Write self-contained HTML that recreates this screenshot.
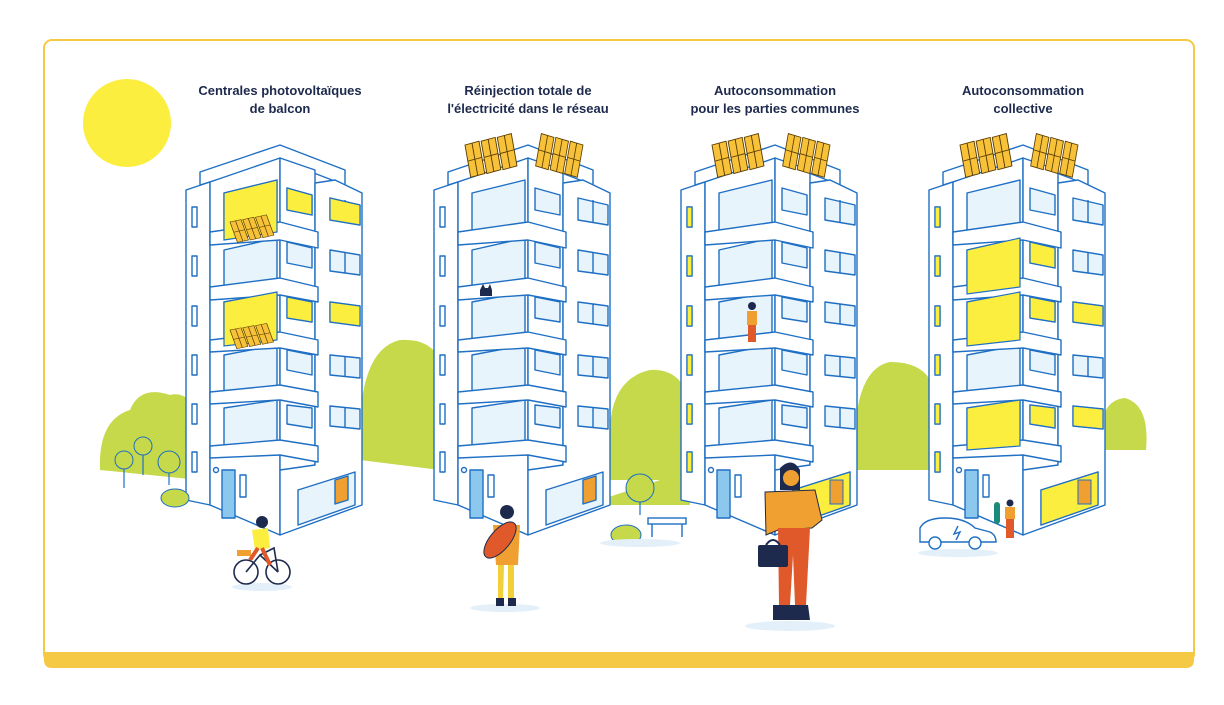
<!DOCTYPE html>
<html><head><meta charset="utf-8"><style>
html,body{margin:0;padding:0;background:#fff;width:1224px;height:705px;overflow:hidden}
svg{display:block}
text{font-family:"Liberation Sans",sans-serif;font-weight:bold;font-size:13px;fill:#1d2a4d}
</style></head><body>
<svg width="1224" height="705" viewBox="0 0 1224 705" xmlns="http://www.w3.org/2000/svg">
<defs>
<g id="bld" stroke="#1f6fc4" stroke-width="1.4" fill="#fff" stroke-linejoin="round">
  <polygon points="200,172 280,145 345,170 345,185 280,160 200,185"/>
  <polygon points="186,190 210,182 210,505 186,500"/>
  <polygon points="210,182 280,158 280,535 210,505"/>
  <polygon points="280,158 315,170 315,470 280,470"/>
  <polygon points="315,183 335,180 362,193 362,505 280,535 280,470 315,465"/>
  <g fill="#e8f4fc">
    <polygon points="224,193 277,180 277,232 224,240"/>
    <polygon points="224,250 277,238 277,287 224,294"/>
    <polygon points="224,302 277,292 277,340 224,346"/>
    <polygon points="224,355 277,345 277,392 224,397"/>
    <polygon points="224,408 277,400 277,446 224,450"/>
    <polygon points="287,188 312,195 312,215 287,210"/>
    <polygon points="287,242 312,248 312,268 287,263"/>
    <polygon points="287,297 312,302 312,322 287,318"/>
    <polygon points="287,350 312,355 312,375 287,370"/>
    <polygon points="287,405 312,408 312,428 287,424"/>
    <polygon points="330,198 360,205 360,225 330,220"/>
    <polygon points="330,250 360,255 360,275 330,271"/>
    <polygon points="330,302 360,306 360,326 330,322"/>
    <polygon points="330,355 360,358 360,378 330,375"/>
    <polygon points="330,406 360,409 360,429 330,426"/>
  </g>
  <g fill="none">
    <line x1="345" y1="200" x2="345" y2="222"/><line x1="345" y1="252" x2="345" y2="273"/>
    <line x1="345" y1="304" x2="345" y2="324"/><line x1="345" y1="356" x2="345" y2="377"/>
    <line x1="345" y1="407" x2="345" y2="428"/>
  </g>
  <g fill="#fff">
    <polygon points="210,232 280,222 318,232 318,248 280,240 210,245"/>
    <polygon points="210,287 280,278 318,287 318,302 280,295 210,300"/>
    <polygon points="210,340 280,332 318,340 318,355 280,348 210,352"/>
    <polygon points="210,392 280,385 318,392 318,407 280,400 210,404"/>
    <polygon points="210,446 280,440 318,446 318,462 280,455 210,458"/>
  </g>
  <g fill="#fff">
    <rect x="192" y="207" width="5" height="20"/><rect x="192" y="256" width="5" height="20"/>
    <rect x="192" y="306" width="5" height="20"/><rect x="192" y="355" width="5" height="20"/>
    <rect x="192" y="404" width="5" height="20"/><rect x="192" y="452" width="5" height="20"/>
  </g>
  <rect x="222" y="470" width="13" height="48" fill="#8cc8ee"/>
  <rect x="240" y="475" width="6" height="22" fill="#fff"/>
  <circle cx="216" cy="470" r="2.5" fill="#fff"/>
  <polygon points="298,490 355,472 355,505 298,525" fill="#e8f4fc"/>
  <polygon points="335,480 348,476 348,500 335,504" fill="#f0a030"/>
</g>
<g id="p1" stroke="#5a3d00" stroke-width="0.9" fill="#f7c23a">
  <polygon points="0,0 14,-4 14,30 0,34"/>
  <line x1="7" y1="-2" x2="7" y2="32"/><line x1="0" y1="17" x2="14" y2="13"/>
</g>
<g id="panel">
  <use href="#p1"/><use href="#p1" transform="translate(16,-4)"/><use href="#p1" transform="translate(32,-8)"/>
</g>
</defs>

<rect x="44" y="40" width="1150" height="622" rx="8" fill="none" stroke="#f6c944" stroke-width="2"/>
<path d="M44,652 L1194,652 L1194,660 Q1194,668 1186,668 L52,668 Q44,668 44,660 Z" fill="#f6c944"/>

<circle cx="127" cy="123" r="44" fill="#fcee3f"/>

<g fill="#c6d94a">
  <path d="M100,470 Q98,420 130,410 Q140,385 170,395 Q190,390 200,420 L200,480 Z"/>
  <path d="M360,460 Q355,350 400,340 Q430,338 440,360 L440,470 Z"/>
  <path d="M600,480 L610,450 Q605,380 650,370 Q680,368 690,400 L690,480 Z"/>
  <path d="M855,470 Q850,370 890,362 Q920,362 930,380 L930,470 Z"/>
  <path d="M1100,440 Q1100,400 1125,398 Q1150,405 1146,450 L1100,450 Z"/>
  <polygon points="600,500 690,470 690,505 600,505"/>
</g>

<use href="#bld"/>
<use href="#bld" transform="translate(248,0)"/>
<use href="#bld" transform="translate(495,0)"/>
<use href="#bld" transform="translate(743,0)"/>

<g fill="#fcee3f" stroke="#1f6fc4" stroke-width="1.2">
  <polygon points="224,193 277,180 277,232 224,240"/>
  <polygon points="224,302 277,292 277,340 224,346"/>
  <polygon points="287,188 312,195 312,215 287,210"/>
  <polygon points="287,297 312,302 312,322 287,318"/>
  <polygon points="330,198 360,205 360,225 330,220"/>
  <polygon points="330,302 360,306 360,326 330,322"/>
</g>
<use href="#panel" transform="translate(230,222) skewX(20) scale(0.85,0.6)"/>
<use href="#panel" transform="translate(230,330) skewX(20) scale(0.85,0.55)"/>
<g>
  <use href="#panel" transform="translate(465,145) skewX(10) scale(1.05,0.95)"/>
  <use href="#panel" transform="translate(583,145) scale(-0.95,0.95) skewX(10)"/>
  <use href="#panel" transform="translate(712,145) skewX(10) scale(1.05,0.95)"/>
  <use href="#panel" transform="translate(830,145) scale(-0.95,0.95) skewX(10)"/>
  <use href="#panel" transform="translate(960,145) skewX(10) scale(1.05,0.95)"/>
  <use href="#panel" transform="translate(1078,145) scale(-0.95,0.95) skewX(10)"/>
</g>
<g fill="#fcee3f" stroke="#1f6fc4" stroke-width="1.2">
  <rect x="687" y="207" width="5" height="20"/><rect x="687" y="256" width="5" height="20"/>
  <rect x="687" y="306" width="5" height="20"/><rect x="687" y="355" width="5" height="20"/>
  <rect x="687" y="404" width="5" height="20"/><rect x="687" y="452" width="5" height="20"/>
  <rect x="935" y="207" width="5" height="20"/><rect x="935" y="256" width="5" height="20"/>
  <rect x="935" y="306" width="5" height="20"/><rect x="935" y="355" width="5" height="20"/>
  <rect x="935" y="404" width="5" height="20"/><rect x="935" y="452" width="5" height="20"/>
  <polygon points="793,490 850,472 850,505 793,525"/>
  <polygon points="967,250 1020,238 1020,287 967,294"/>
  <polygon points="967,302 1020,292 1020,340 967,346"/>
  <polygon points="967,408 1020,400 1020,446 967,450"/>
  <polygon points="1030,242 1055,248 1055,268 1030,263"/>
  <polygon points="1030,297 1055,302 1055,322 1030,318"/>
  <polygon points="1030,405 1055,408 1055,428 1030,424"/>
  <polygon points="1073,302 1103,306 1103,326 1073,322"/>
  <polygon points="1073,406 1103,409 1103,429 1073,426"/>
  <polygon points="1041,490 1098,472 1098,505 1041,525"/>
</g>
<rect x="1078" y="480" width="13" height="24" fill="#f0a030" stroke="#1f6fc4"/>
<rect x="830" y="480" width="13" height="24" fill="#f0a030" stroke="#1f6fc4"/>

<g stroke="#1f6fc4" stroke-width="1.2">
  <line x1="124" y1="465" x2="124" y2="488"/><line x1="143" y1="450" x2="143" y2="475"/><line x1="169" y1="465" x2="169" y2="485"/>
  <line x1="640" y1="490" x2="640" y2="515"/>
</g>
<g fill="#c6d94a" stroke="#1f6fc4" stroke-width="1">
  <circle cx="124" cy="460" r="9"/><circle cx="143" cy="446" r="9"/><circle cx="169" cy="462" r="11"/>
  <ellipse cx="175" cy="498" rx="14" ry="9"/>
  <circle cx="640" cy="488" r="14"/>
  <ellipse cx="626" cy="535" rx="15" ry="10"/>
</g>
<g stroke="#1f6fc4" stroke-width="1.4" fill="none">
  <rect x="648" y="518" width="38" height="6" fill="#fff"/>
  <line x1="652" y1="524" x2="652" y2="537"/><line x1="682" y1="524" x2="682" y2="537"/>
</g>
<g fill="#e3f0fa">
  <ellipse cx="640" cy="543" rx="40" ry="4"/><ellipse cx="262" cy="587" rx="30" ry="4"/>
  <ellipse cx="505" cy="608" rx="35" ry="4"/><ellipse cx="790" cy="626" rx="45" ry="5"/>
  <ellipse cx="958" cy="553" rx="40" ry="4"/>
</g>

<g stroke="#1d2a4d" stroke-width="1.6" fill="none">
  <circle cx="246" cy="572" r="12"/><circle cx="278" cy="572" r="12"/>
  <path d="M246,572 L260,555 L278,572 M260,555 L274,548 L278,572"/>
</g>
<rect x="237" y="550" width="14" height="6" fill="#f0a030"/>
<path d="M252,530 L268,528 L270,548 L255,550 Z" fill="#fcee3f"/>
<circle cx="262" cy="522" r="6" fill="#1d2a4d"/>
<path d="M262,548 L270,565 M258,548 L250,560" stroke="#e0592a" stroke-width="4"/>

<g>
  <circle cx="507" cy="512" r="7" fill="#1d2a4d"/>
  <path d="M493,525 L520,525 L518,565 L496,565 Z" fill="#f0a030"/>
  <path d="M498,565 L504,565 L503,600 L498,600 Z M508,565 L514,565 L514,600 L508,600 Z" fill="#f2d03a"/>
  <rect x="496" y="598" width="8" height="8" fill="#1d2a4d"/><rect x="508" y="598" width="8" height="8" fill="#1d2a4d"/>
  <ellipse cx="500" cy="540" rx="10" ry="22" transform="rotate(40 500 540)" fill="#e0592a" stroke="#1d2a4d"/>
</g>
<g>
  <circle cx="752" cy="306" r="4" fill="#1d2a4d"/>
  <rect x="747" y="311" width="10" height="14" fill="#f0a030"/>
  <rect x="748" y="325" width="8" height="17" fill="#e0592a"/>
</g>
<g>
  <path d="M780,468 Q792,456 800,470 L800,490 L780,490 Z" fill="#1d2a4d"/>
  <circle cx="791" cy="478" r="8" fill="#f0a030"/>
  <path d="M765,492 L815,490 L822,520 L812,528 L812,528 L778,530 L766,535 Z" fill="#f0a030" stroke="#1d2a4d"/>
  <path d="M778,528 L810,528 L806,605 L795,605 L793,555 L790,605 L779,605 Z" fill="#e0592a"/>
  <path d="M773,605 L795,605 L795,620 L773,620 Z M787,605 L808,605 L810,620 L790,620 Z" fill="#1d2a4d"/>
  <rect x="758" y="545" width="30" height="22" rx="2" fill="#1d2a4d"/>
  <path d="M766,545 Q773,535 780,545" stroke="#1d2a4d" fill="none" stroke-width="2"/>
</g>
<g stroke="#1f6fc4" stroke-width="1.4" fill="#fff">
  <path d="M920,542 L920,528 Q925,518 945,518 Q965,518 975,528 L990,532 Q996,535 996,542 Z"/>
  <circle cx="935" cy="543" r="6"/><circle cx="975" cy="543" r="6"/>
  <path d="M958,526 L954,534 L960,532 L956,540" fill="none"/>
</g>
<rect x="994" y="502" width="6" height="22" rx="3" fill="#1b8a7a"/>
<g><circle cx="1010" cy="503" r="3.5" fill="#1d2a4d"/><rect x="1005" y="507" width="10" height="12" fill="#f0a030"/><rect x="1006" y="519" width="8" height="19" fill="#e0592a"/></g>
<path d="M480,290 l3,-6 l2,4 l3,0 l2,-4 l2,6 l0,6 l-12,0 Z" fill="#1d2a4d"/>

<g text-anchor="middle">
  <text x="280" y="95">Centrales photovoltaïques</text>
  <text x="280" y="113">de balcon</text>
  <text x="528" y="95">Réinjection totale de</text>
  <text x="528" y="113">l'électricité dans le réseau</text>
  <text x="775" y="95">Autoconsommation</text>
  <text x="775" y="113">pour les parties communes</text>
  <text x="1023" y="95">Autoconsommation</text>
  <text x="1023" y="113">collective</text>
</g>
</svg>
</body></html>
